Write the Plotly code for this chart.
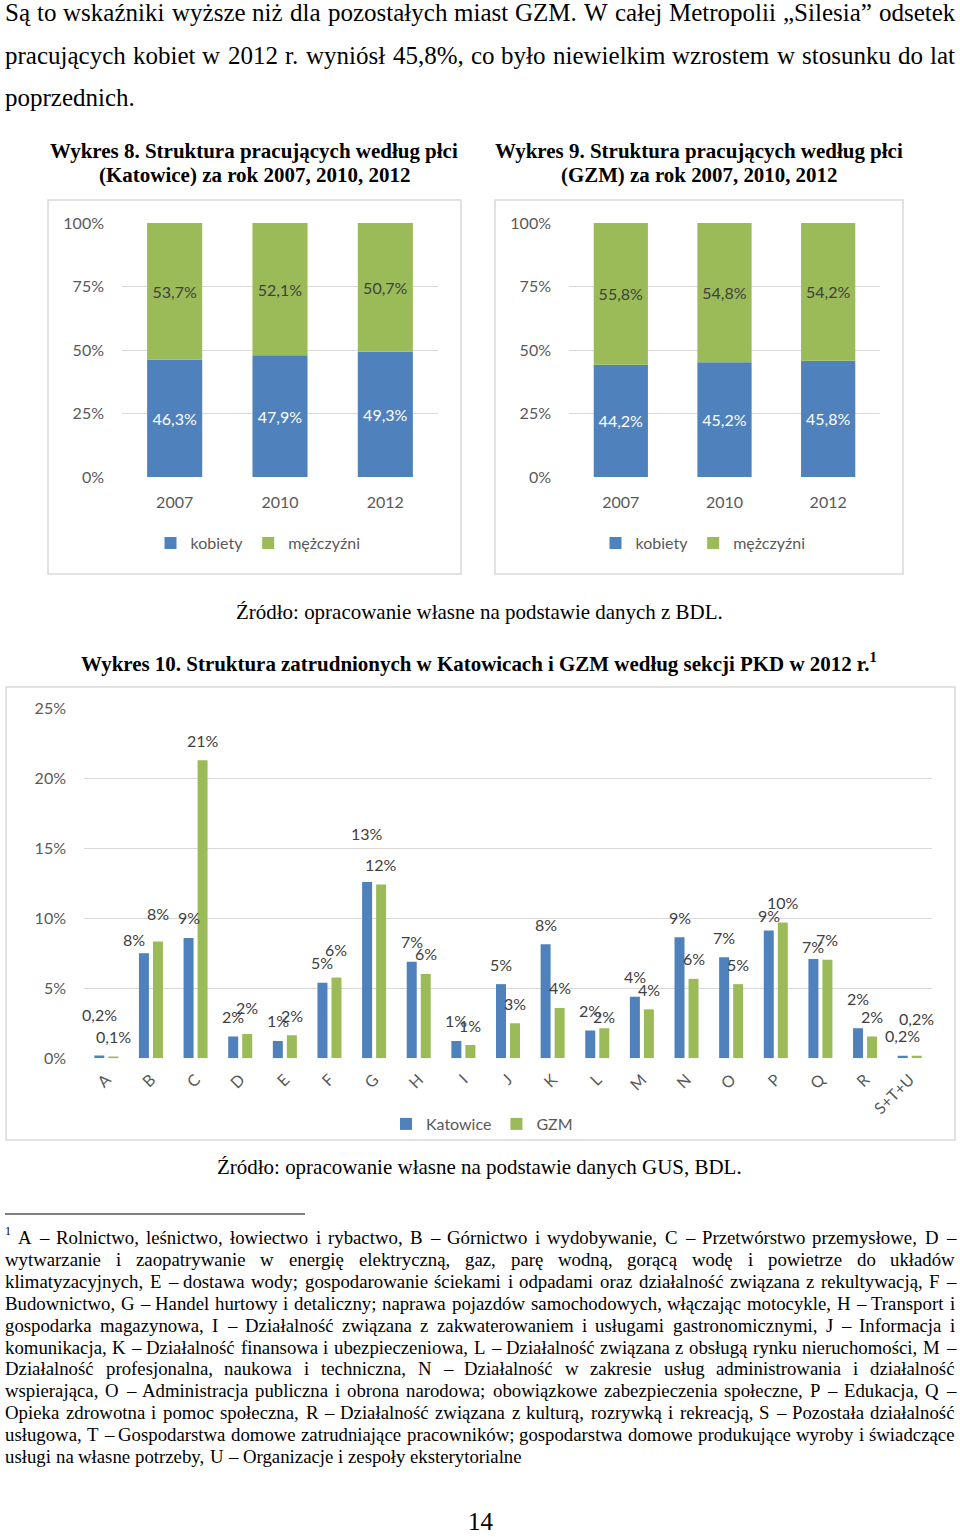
import plotly.graph_objects as go

W, H = 960, 1537


def px(x):
    return x / W


def py(y):
    return 1 - y / H


# ---------------- data ----------------
years = ["2007", "2010", "2012"]
kat_kobiety = [46.3, 47.9, 49.3]
kat_mezczyzni = [53.7, 52.1, 50.7]
gzm_kobiety = [44.2, 45.2, 45.8]
gzm_mezczyzni = [55.8, 54.8, 54.2]
pct_ticks = [0, 25, 50, 75, 100]

sections = ["A", "B", "C", "D", "E", "F", "G", "H", "I", "J", "K", "L", "M",
            "N", "O", "P", "Q", "R", "S+T+U"]
katowice = [0.2, 7.5, 8.6, 1.55, 1.24, 5.4, 12.6, 6.9, 1.24, 5.3, 8.16, 1.98,
            4.4, 8.66, 7.23, 9.13, 7.1, 2.15, 0.19]
gzm = [0.1, 8.35, 21.3, 1.74, 1.65, 5.77, 12.43, 6.03, 0.95, 2.5, 3.6, 2.15,
       3.5, 5.68, 5.3, 9.7, 7.04, 1.55, 0.19]
katowice_labels = ["0,2%", "8%", "9%", "2%", "1%", "5%", "13%", "7%", "1%", "5%",
                   "8%", "2%", "4%", "9%", "7%", "9%", "7%", "2%", "0,2%"]
gzm_labels = ["0,1%", "8%", "21%", "2%", "2%", "6%", "12%", "6%", "1%", "3%",
              "4%", "2%", "4%", "6%", "5%", "10%", "7%", "2%", "0,2%"]
sec_ticks = [0, 5, 10, 15, 20, 25]

body_lines = [
    "Są to wskaźniki wyższe niż dla pozostałych miast GZM. W całej Metropolii „Silesia” odsetek",
    "pracujących kobiet w 2012 r. wyniósł 45,8%, co było niewielkim wzrostem w stosunku do lat",
    "poprzednich.",
]
foot_lines = [
    "A – Rolnictwo, leśnictwo, łowiectwo i rybactwo, B – Górnictwo i wydobywanie, C – Przetwórstwo przemysłowe, D –",
    "wytwarzanie i zaopatrywanie w energię elektryczną, gaz, parę wodną, gorącą wodę i powietrze do układów",
    "klimatyzacyjnych, E – dostawa wody; gospodarowanie ściekami i odpadami oraz działalność związana z rekultywacją, F –",
    "Budownictwo, G – Handel hurtowy i detaliczny; naprawa pojazdów samochodowych, włączając motocykle, H – Transport i",
    "gospodarka magazynowa, I – Działalność związana z zakwaterowaniem i usługami gastronomicznymi, J – Informacja i",
    "komunikacja, K – Działalność finansowa i ubezpieczeniowa, L – Działalność związana z obsługą rynku nieruchomości, M –",
    "Działalność profesjonalna, naukowa i techniczna, N – Działalność w zakresie usług administrowania i działalność",
    "wspierająca, O – Administracja publiczna i obrona narodowa; obowiązkowe zabezpieczenia społeczne, P – Edukacja, Q –",
    "Opieka zdrowotna i pomoc społeczna, R – Działalność związana z kulturą, rozrywką i rekreacją, S – Pozostała działalność",
    "usługowa, T – Gospodarstwa domowe zatrudniające pracowników; gospodarstwa domowe produkujące wyroby i świadczące",
    "usługi na własne potrzeby, U – Organizacje i zespoły eksterytorialne",
]

# ---------------- styles ----------------
SERIF = "Liberation Serif"
SANS = "Lato"
C_BLUE = "#4F81BD"
C_GREEN = "#9BBB59"
C_TICK = "#595959"
C_LABEL = "#404040"
C_GRID = "#d9d9d9"

# manual nudges (px) of some data labels in Wykres 10, as in the original chart
LABEL_NUDGE = {
    ("K", "A"): (0, 21), ("K", "B"): (-10, -6), ("K", "G"): (0, 29), ("K", "R"): (0, 10),
    ("K", "Q"): (0, -8), ("K", "P"): (0, -5),
    ("G", "B"): (0, 8), ("G", "F"): (0, 8), ("G", "D"): (0, 6), ("G", "S+T+U"): (0, 17),
    ("G", "L"): (0, -8),
}
LABEL_RISE = 20      # px from bar top to label centre
BAR_W = 0.224        # bar width in category units
BAR_GAP = 0.045      # half gap between the pair

# Times metrics (per 1000 em) for layout of justified text
TR, TB = {}, {}


def _s(d, chars, w):
    for c in chars:
        d[c] = w


_s(TR, " ,.", 250)
_s(TR, "ijltł;:!", 278)
_s(TR, "fr()-I", 333)
_s(TR, "sśJ", 389)
_s(TR, "aceząćęźż„”", 444)
_s(TR, "bdghknopquvxyóń0123456789–", 500)
_s(TR, "FPSŚ", 556)
_s(TR, "ELTZŁŹŻ", 611)
_s(TR, "BCR", 667)
_s(TR, "ADGHKNOQUVXYÓw", 722)
TR["m"] = 778
TR["M"] = 889
TR["W"] = 944
TR["%"] = 833

_s(TB, " ,.", 250)
_s(TB, "ilł", 278)
_s(TB, "fjt()", 333)
_s(TB, "sśI", 389)
_s(TB, "ceęćrzźż", 444)
_s(TB, "agoóvxyąJ0123456789", 500)
_s(TB, "bdhknpquń", 556)
_s(TB, "FP", 611)
_s(TB, "BELTZ", 667)
_s(TB, "ACDNRUVXYw", 722)
_s(TB, "GHKOQ", 778)
TB["m"] = 833
TB["M"] = 944
TB["W"] = 1000


def em(text, table):
    return sum(table.get(c, 500) for c in text) / 1000.0


annotations = []


def add_text(text, x, y, size, xanchor="left", bold=False, family=SERIF, color="black"):
    annotations.append(dict(
        text=f"<b>{text}</b>" if bold else text,
        x=px(x), y=py(y), xref="paper", yref="paper",
        xanchor=xanchor, yanchor="middle", showarrow=False,
        font=dict(family=family, size=size, color=color),
        borderpad=0, borderwidth=0,
    ))


def justify(text, x0, x1, y, size, last=False):
    words = text.split(" ")
    ws = [em(w, TR) * size for w in words]
    if last or len(words) == 1:
        gap = 0.25 * size
    else:
        gap = max((x1 - x0 - sum(ws)) / (len(words) - 1), 0.12 * size)
    x = x0
    for w, wd in zip(words, ws):
        add_text(w, x, y, size)
        x += wd + gap


def centered(text, xc, y, width, bold=False):
    size = width / em(text, TB if bold else TR)
    add_text(text, xc, y, size, xanchor="center", bold=bold)


# body paragraph
BODY = 25.0
for i, (line, yy) in enumerate(zip(body_lines, [12, 55, 97])):
    justify(line, 5, 955, yy, BODY, last=(i == len(body_lines) - 1))

# chart titles
centered("Wykres 8. Struktura pracujących według płci", 254, 151, 408, bold=True)
centered("(Katowice) za rok 2007, 2010, 2012", 254, 175, 312, bold=True)
centered("Wykres 9. Struktura pracujących według płci", 699, 151, 408, bold=True)
centered("(GZM) za rok 2007, 2010, 2012", 698.5, 175, 277, bold=True)
centered("Źródło: opracowanie własne na podstawie danych z BDL.", 479.5, 612, 487)
t10 = "Wykres 10. Struktura zatrudnionych w Katowicach i GZM według sekcji PKD w 2012 r."
s10 = (872 - 81) / em(t10, TB)
annotations.append(dict(
    text=f"<b>{t10}<sup>1</sup></b>", x=px(81), y=py(662), xref="paper", yref="paper",
    xanchor="left", yanchor="middle", showarrow=False,
    font=dict(family=SERIF, size=s10, color="black"), borderpad=0, borderwidth=0))
centered("Źródło: opracowanie własne na podstawie danych GUS, BDL.", 479.5, 1167, 525)

# footnote
FOOT = 18.8
add_text("1", 5, 1231, 12)
foot_y = [1237, 1259, 1281, 1303, 1325, 1347, 1368, 1390, 1412, 1434, 1456]
for i, (line, yy) in enumerate(zip(foot_lines, foot_y)):
    justify(line, 18 if i == 0 else 5, 955, yy, FOOT, last=(i == len(foot_lines) - 1))

# page number
add_text("14", 481, 1521, BODY, xanchor="center")

# data labels of Wykres 10 (anchored on the data through axis x3/y3)
cat_px = (932 - 84) / len(sections)
for key, vals, labs, sign in [("K", katowice, katowice_labels, -1), ("G", gzm, gzm_labels, 1)]:
    off = sign * (BAR_GAP + BAR_W / 2) * cat_px
    for sec, v, lab in zip(sections, vals, labs):
        dx, dy = LABEL_NUDGE.get((key, sec), (0, 0))
        annotations.append(dict(
            text=lab, x=sec, y=v, xref="x3", yref="y3", xanchor="center", yanchor="middle",
            xshift=off + dx, yshift=LABEL_RISE + dy, showarrow=False,
            font=dict(family=SANS, size=16, color=C_LABEL), borderpad=0, borderwidth=0))

shapes = [
    dict(type="rect", xref="paper", yref="paper", x0=px(48), x1=px(461), y0=py(574), y1=py(200),
         line=dict(color=C_GRID, width=1.5)),
    dict(type="rect", xref="paper", yref="paper", x0=px(495), x1=px(903), y0=py(574), y1=py(200),
         line=dict(color=C_GRID, width=1.5)),
    dict(type="rect", xref="paper", yref="paper", x0=px(6), x1=px(955), y0=py(1140), y1=py(687),
         line=dict(color=C_GRID, width=1.5)),
    dict(type="line", xref="paper", yref="paper", x0=px(5), x1=px(305), y0=py(1214), y1=py(1214),
         line=dict(color="black", width=1)),
]


def fmt1(v):
    return f"{v:.1f}%".replace(".", ",")


fig = go.Figure()
tf_white = dict(family=SANS, size=16, color="white")
tf_dark = dict(family=SANS, size=16, color=C_LABEL)

for kob, mez, xa, ya, leg in [(kat_kobiety, kat_mezczyzni, "x", "y", "legend"),
                              (gzm_kobiety, gzm_mezczyzni, "x2", "y2", "legend2")]:
    fig.add_trace(go.Bar(
        x=years, y=kob, name="kobiety", marker=dict(color=C_BLUE, line=dict(width=0)),
        width=0.523, text=[fmt1(v) for v in kob], textposition="inside",
        insidetextanchor="middle", textangle=0, constraintext="none", textfont=tf_white,
        xaxis=xa, yaxis=ya, legend=leg))
    fig.add_trace(go.Bar(
        x=years, y=mez, base=kob, name="mężczyźni", marker=dict(color=C_GREEN, line=dict(width=0)),
        width=0.523, text=[fmt1(v) for v in mez], textposition="inside",
        insidetextanchor="middle", textangle=0, constraintext="none", textfont=tf_dark,
        xaxis=xa, yaxis=ya, legend=leg))

fig.add_trace(go.Bar(
    x=sections, y=katowice, name="Katowice", marker=dict(color=C_BLUE, line=dict(width=0)),
    width=BAR_W, offset=-(BAR_GAP + BAR_W), xaxis="x3", yaxis="y3", legend="legend3"))
fig.add_trace(go.Bar(
    x=sections, y=gzm, name="GZM", marker=dict(color=C_GREEN, line=dict(width=0)),
    width=BAR_W, offset=BAR_GAP, xaxis="x3", yaxis="y3", legend="legend3"))

tick_font = dict(family=SANS, size=16, color=C_TICK)
xcommon = dict(type="category", showgrid=False, zeroline=False, showline=False, ticks="",
               tickfont=tick_font, fixedrange=True, automargin=False)
ycommon = dict(showgrid=True, gridcolor=C_GRID, gridwidth=1.2, zeroline=False, showline=False,
               ticks="", tickfont=tick_font, fixedrange=True, automargin=False)

leg_common = dict(orientation="h", xanchor="center", yanchor="middle", bgcolor="rgba(0,0,0,0)",
                  font=dict(family=SANS, size=16, color=C_TICK), itemwidth=30,
                  itemclick=False, itemdoubleclick=False)

fig.update_layout(
    width=W, height=H, margin=dict(l=0, r=0, t=0, b=0, pad=0, autoexpand=False),
    paper_bgcolor="white", plot_bgcolor="white",
    barmode="overlay", hovermode=False, showlegend=True,
    font=dict(family=SANS, color=C_TICK),
    xaxis=dict(xcommon, domain=[px(122), px(438)], anchor="y", range=[-0.5, 2.5], ticklabelstandoff=14),
    yaxis=dict(ycommon, domain=[py(477), py(223)], anchor="x", range=[0, 100], tickvals=pct_ticks,
               ticktext=[f"{v}%" for v in pct_ticks], ticklabelstandoff=17),
    xaxis2=dict(xcommon, domain=[px(569), px(880)], anchor="y2", range=[-0.5, 2.5], ticklabelstandoff=14),
    yaxis2=dict(ycommon, domain=[py(477), py(223)], anchor="x2", range=[0, 100], tickvals=pct_ticks,
                ticktext=[f"{v}%" for v in pct_ticks], ticklabelstandoff=17),
    xaxis3=dict(xcommon, domain=[px(84), px(932)], anchor="y3", range=[-0.5, 18.5], tickangle=-45,
                ticklabelstandoff=8),
    yaxis3=dict(ycommon, domain=[py(1058.3), py(708.5)], anchor="x3", range=[0, 25], tickvals=sec_ticks,
                ticktext=[f"{v}%" for v in sec_ticks], ticklabelstandoff=17),
    legend=dict(leg_common, x=px(258), y=py(543)),
    legend2=dict(leg_common, x=px(703), y=py(543)),
    legend3=dict(leg_common, x=px(482), y=py(1124)),
    annotations=annotations,
    shapes=shapes,
)

fig.write_html("out.html", config={"displayModeBar": False},
               post_script="document.body.style.margin='0px';document.body.style.padding='0px';")
